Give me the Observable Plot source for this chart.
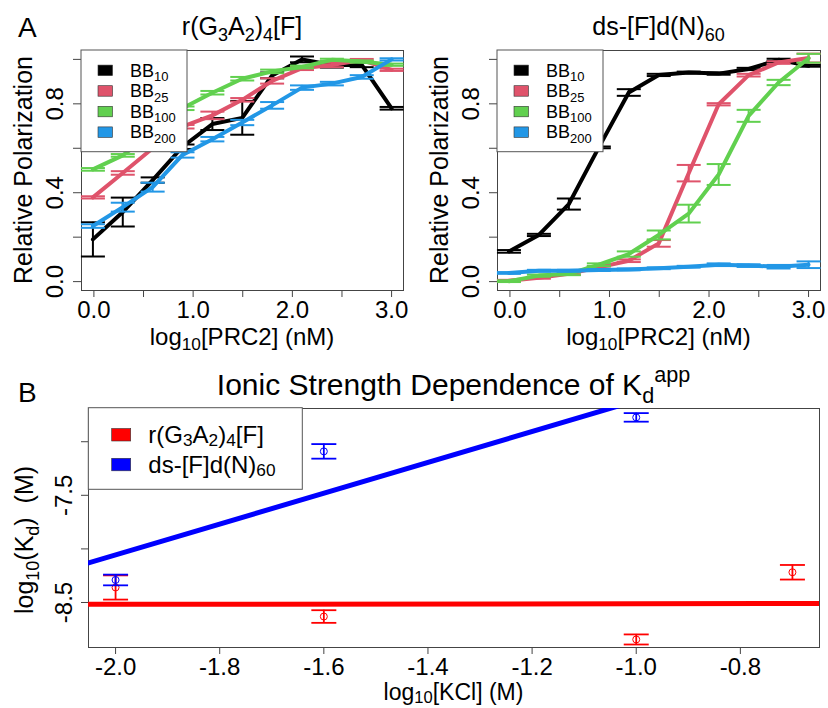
<!DOCTYPE html>
<html><head><meta charset="utf-8">
<script src="https://cdn.jsdelivr.net/npm/d3@7"></script>
<script src="https://cdn.jsdelivr.net/npm/@observablehq/plot@0.6"></script>
<style>
body{margin:0;background:#fff;}
#wrap{position:relative;width:828px;height:708px;background:#fff;font-family:"Liberation Sans",Arial,Helvetica,sans-serif;}
#wrap > svg{position:absolute;}
</style></head><body><div id="wrap"></div>
<script>
// ---------- DATA ----------
// x positions: log10 of PRC2 concentration (nM), 2-fold dilution series
const prc2Log = [-0.010, 0.291, 0.592, 0.893, 1.194, 1.495, 1.796, 2.097, 2.398, 2.699, 3.000];
const seriesA = ["BB10", "BB25", "BB100", "BB200"];
const seriesASub = ["10", "25", "100", "200"];
const colorsA = ["#000000", "#DF536B", "#61D04F", "#2297E6"];

// Panel A left: r(G3A2)4[F]
const rna_BB10 = [0.190, 0.313, 0.457, 0.607, 0.709, 0.737, 0.928, 1.000, 0.975, 0.975, 0.780];
const rna_BB25 = [0.379, 0.489, 0.600, 0.697, 0.748, 0.818, 0.903, 0.960, 0.975, 0.997, 0.953];
const rna_BB100 = [0.505, 0.568, 0.670, 0.780, 0.850, 0.913, 0.946, 0.966, 0.998, 0.990, 0.976];
const rna_BB200 = [0.250, 0.335, 0.425, 0.570, 0.641, 0.716, 0.793, 0.873, 0.891, 0.921, 1.000];
const rna_BB10_err = [0.077, 0.065, 0.012, 0.010, 0.027, 0.076, 0.013, 0.013, 0.012, 0.010, 0.006];
const rna_BB25_err = [0.005, 0.008, 0.008, 0.008, 0.017, 0.008, 0.012, 0.008, 0.010, 0.005, 0.005];
const rna_BB100_err = [0.006, 0.006, 0.006, 0.008, 0.008, 0.008, 0.008, 0.006, 0.005, 0.005, 0.005];
const rna_BB200_err = [0.008, 0.020, 0.020, 0.012, 0.010, 0.012, 0.015, 0.010, 0.008, 0.008, 0.005];

// Panel A right: ds-[F]d(N)60
const ds_BB10 = [0.136, 0.210, 0.349, 0.604, 0.851, 0.930, 0.941, 0.936, 0.957, 0.998, 0.971];
const ds_BB25 = [0.004, 0.017, 0.035, 0.064, 0.094, 0.172, 0.488, 0.798, 0.929, 0.986, 1.006];
const ds_BB100 = [0.002, 0.027, 0.035, 0.076, 0.124, 0.210, 0.306, 0.482, 0.746, 0.896, 1.005];
const ds_BB200 = [0.039, 0.049, 0.049, 0.052, 0.055, 0.060, 0.067, 0.076, 0.072, 0.067, 0.076];
const ds_BB10_err = [0.006, 0.005, 0.025, 0.004, 0.015, 0.005, 0.004, 0.005, 0.005, 0.005, 0.004];
const ds_BB25_err = [0.004, 0.004, 0.005, 0.005, 0.006, 0.015, 0.037, 0.005, 0.006, 0.006, 0.020];
const ds_BB100_err = [0.004, 0.005, 0.006, 0.006, 0.012, 0.020, 0.040, 0.047, 0.027, 0.012, 0.020];
const ds_BB200_err = [0.004, 0.004, 0.004, 0.004, 0.004, 0.004, 0.004, 0.006, 0.006, 0.008, 0.015];

const xTicksA = [0, 0.5, 1, 1.5, 2, 2.5, 3];
const xTickLabelsA = ["0.0", "", "1.0", "", "2.0", "", "3.0"];
const yTicksA = [0, 0.2, 0.4, 0.6, 0.8, 1.0];
const yTickLabelsA = ["0.0", "", "0.4", "", "0.8", ""];

// Panel B: log10(Kd) vs log10[KCl]
const seriesB = ["r(G3A2)4[F]", "ds-[F]d(N)60"];
const colorsB = ["#FF0000", "#0000FF"];
const rna_kcl = [-2.0, -1.6, -1.0, -0.7];
const rna_logKd = [-8.360, -8.631, -8.845, -8.218];
const rna_logKd_err = [0.113, 0.059, 0.047, 0.068];
const ds_kcl = [-2.0, -1.6, -1.0];
const ds_logKd = [-8.290, -7.090, -6.773];
const ds_logKd_err = [0.050, 0.068, 0.040];

const kclTicks = [-2.0, -1.8, -1.6, -1.4, -1.2, -1.0, -0.8];
const kclTickLabels = ["-2.0", "-1.8", "-1.6", "-1.4", "-1.2", "-1.0", "-0.8"];
const kdTicks = [-8.5, -8.0, -7.5, -7.0];
const kdTickLabels = ["-8.5", "", "-7.5", ""];

// ---------- DRAWING ----------
const FONT = '"Liberation Sans", Arial, Helvetica, sans-serif';
const wrap = document.getElementById("wrap");
const cap = {draw(ctx, size) { const w = Math.sqrt(size / Math.PI); ctx.moveTo(-w, 0); ctx.lineTo(w, 0); }};
const labelMap = (ticks, labels) => new Map(ticks.map((t, i) => [t, labels[i]]));
const xLabA = labelMap(xTicksA, xTickLabelsA), yLabA = labelMap(yTicksA, yTickLabelsA);

function panelA(values, errors, ml, mr) {
  const marks = [
    Plot.axisX({ticks: xTicksA, tickFormat: d => xLabA.get(d), tickSize: 7, tickPadding: 3, label: null, stroke: "#444"}),
    Plot.axisY({ticks: yTicksA, tickFormat: d => yLabA.get(d), tickSize: 8, tickPadding: 11, tickRotate: -90, label: null, stroke: "#444"}),
    Plot.frame({stroke: "#444", strokeWidth: 1})
  ];
  seriesA.forEach((name, i) => {
    const rows = prc2Log.map((x, j) => ({x, y: values[i][j], e: errors[i][j]}));
    const c = colorsA[i];
    marks.push(Plot.line(rows, {x: "x", y: "y", stroke: c, strokeWidth: 4}));
    marks.push(Plot.ruleX(rows, {x: "x", y1: d => d.y - d.e, y2: d => d.y + d.e, stroke: c, strokeWidth: 2}));
    marks.push(Plot.dot(rows, {x: "x", y: d => d.y - d.e, r: 12, symbol: cap, stroke: c, fill: "none", strokeWidth: 2}));
    marks.push(Plot.dot(rows, {x: "x", y: d => d.y + d.e, r: 12, symbol: cap, stroke: c, fill: "none", strokeWidth: 2}));
  });
  return Plot.plot({
    width: 414, height: 340, marginLeft: ml, marginRight: mr, marginTop: 50, marginBottom: 50,
    x: {domain: [-0.125, 3.12]}, y: {domain: [-0.04, 1.04]},
    style: {fontFamily: FONT, fontSize: "24px", color: "#000", background: "transparent"},
    marks
  });
}

const svgA1 = panelA([rna_BB10, rna_BB25, rna_BB100, rna_BB200], [rna_BB10_err, rna_BB25_err, rna_BB100_err, rna_BB200_err], 81, 11);
svgA1.style.left = "0px"; svgA1.style.top = "0px";
wrap.appendChild(svgA1);
const svgA2 = panelA([ds_BB10, ds_BB25, ds_BB100, ds_BB200], [ds_BB10_err, ds_BB25_err, ds_BB100_err, ds_BB200_err], 83, 8);
svgA2.style.left = "414px"; svgA2.style.top = "0px";
wrap.appendChild(svgA2);

// Panel B
function fit(xs, ys) {
  const mx = d3.mean(xs), my = d3.mean(ys);
  const b = d3.sum(xs, (x, i) => (x - mx) * (ys[i] - my)) / d3.sum(xs, x => (x - mx) ** 2);
  return {a: my - b * mx, b};
}
const xDomB = [-2.052, -0.648];
const bSets = [[rna_kcl, rna_logKd, rna_logKd_err], [ds_kcl, ds_logKd, ds_logKd_err]];
const marksB = [
  Plot.axisX({ticks: kclTicks, tickFormat: d => labelMap(kclTicks, kclTickLabels).get(d), tickSize: 7, tickPadding: 3, label: null, stroke: "#444"}),
  Plot.axisY({ticks: kdTicks, tickFormat: d => labelMap(kdTicks, kdTickLabels).get(d), tickSize: 7, tickPadding: 10, tickRotate: -90, label: null, stroke: "#444"}),
  Plot.frame({stroke: "#444", strokeWidth: 1})
];
bSets.forEach(([xs, ys, es], i) => {
  const c = colorsB[i];
  const rows = xs.map((x, j) => ({x, y: ys[j], e: es[j]}));
  marksB.push(Plot.dot(rows, {x: "x", y: "y", r: 3.5, stroke: c, fill: "none", strokeWidth: 1}));
  marksB.push(Plot.ruleX(rows, {x: "x", y1: d => d.y - d.e, y2: d => d.y + d.e, stroke: c, strokeWidth: 1.8}));
  marksB.push(Plot.dot(rows, {x: "x", y: d => d.y - d.e, r: 12.5, symbol: cap, stroke: c, fill: "none", strokeWidth: 1.8}));
  marksB.push(Plot.dot(rows, {x: "x", y: d => d.y + d.e, r: 12.5, symbol: cap, stroke: c, fill: "none", strokeWidth: 1.8}));
});
bSets.forEach(([xs, ys], i) => {
  const {a, b} = fit(xs, ys);
  const pts = xDomB.map(x => ({x, y: a + b * x}));
  marksB.push(Plot.line(pts, {x: "x", y: "y", stroke: colorsB[i], strokeWidth: 5, clip: true}));
});
const svgB = Plot.plot({
  width: 828, height: 368, marginLeft: 88, marginRight: 9, marginTop: 68, marginBottom: 61,
  x: {domain: xDomB}, y: {domain: [-8.92, -6.69]},
  style: {fontFamily: FONT, fontSize: "24px", color: "#000", background: "transparent"},
  marks: marksB
});
svgB.style.left = "0px"; svgB.style.top = "340px";
wrap.appendChild(svgB);

// ---------- TEXT / LEGEND OVERLAY ----------
const ov = d3.select(wrap).append("svg").attr("width", 828).attr("height", 708)
  .style("left", "0px").style("top", "0px").style("pointer-events", "none")
  .attr("font-family", FONT).attr("fill", "#000");

function rich(parts, {x, y, size, anchor = "start", rotate = 0, sub = 0.25}) {
  const t = ov.append("text").attr("font-size", size).attr("text-anchor", anchor)
    .attr("transform", `translate(${x},${y}) rotate(${rotate})`).style("white-space", "pre");
  let shift = 0;
  for (const [s, kind] of parts) {
    const ts = t.append("tspan").text(s);
    let target = 0;
    if (kind === "sub") { ts.attr("font-size", size * 0.72); target = size * sub; }
    else if (kind === "sup") { ts.attr("font-size", size * 0.72); target = -size * 0.42; }
    if (target - shift !== 0) ts.attr("dy", target - shift);
    shift = target;
  }
  return t;
}
const titleRna = [["r(G"], ["3", "sub"], ["A"], ["2", "sub"], [")"], ["4", "sub"], ["[F]"]];
const titleDs = [["ds-[F]d(N)"], ["60", "sub"]];

// panel letters
rich([["A"]], {x: 18, y: 37, size: 28});
rich([["B"]], {x: 18, y: 402, size: 28});

// panel A titles and axis titles
[[81, 403, titleRna], [497, 820, titleDs]].forEach(([l, r, title]) => {
  const cx = (l + r) / 2;
  rich(title, {x: cx, y: 35, size: 25, anchor: "middle"});
  rich([["log"], ["10", "sub"], ["[PRC2] (nM)"]], {x: cx, y: 345, size: 24, anchor: "middle", sub: 0.2});
  rich([["Relative Polarization"]], {x: l - 49.5, y: 170, size: 25, anchor: "middle", rotate: -90});
  // legend
  const lg = ov.append("g");
  lg.append("rect").attr("x", l).attr("y", 50).attr("width", 106).attr("height", 101.7)
    .attr("fill", "#fff").attr("stroke", "#555").attr("stroke-width", 1);
  seriesA.forEach((s, i) => {
    const cy = 70.3 + i * 20.6;
    lg.append("rect").attr("x", l + 17).attr("y", cy - 5.2).attr("width", 14.5).attr("height", 10.5)
      .attr("fill", colorsA[i]).attr("stroke", "#333").attr("stroke-width", 0.6);
    rich([["BB"], [seriesASub[i], "sub"]], {x: l + 49, y: cy + 6.3, size: 18});
  });
});

// panel B title, axis titles
rich([["Ionic Strength Dependence of K"], ["d", "sub"], ["app", "sup"]], {x: 453.5, y: 395, size: 30, anchor: "middle"});
rich([["log"], ["10", "sub"], ["[KCl] (M)"]], {x: 453.5, y: 700, size: 23, anchor: "middle", sub: 0.15});
rich([["log"], ["10", "sub"], ["(K"], ["d", "sub"], [")  (M)"]], {x: 33, y: 540, size: 25, anchor: "middle", rotate: -90});

// panel B legend
const lgB = ov.append("g");
lgB.append("rect").attr("x", 88.3).attr("y", 407.7).attr("width", 214).attr("height", 81.6)
  .attr("fill", "#fff").attr("stroke", "#555").attr("stroke-width", 1);
[titleRna, titleDs].forEach((t, i) => {
  const cy = 434.7 + i * 29.8;
  lgB.append("rect").attr("x", 111.7).attr("y", cy - 6.2).attr("width", 19).attr("height", 12.5)
    .attr("fill", colorsB[i]).attr("stroke", "#333").attr("stroke-width", 0.6);
  rich(t, {x: 148.3, y: cy + 8, size: 24, sub: 0.15});
});
</script></body></html>
